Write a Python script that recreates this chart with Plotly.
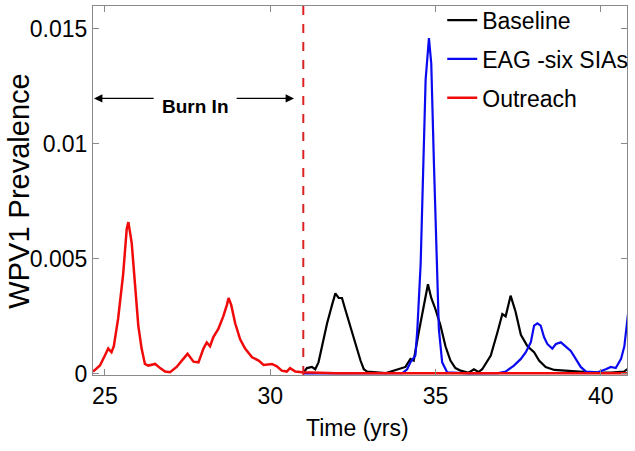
import plotly.graph_objects as go

# ---- data ----
red_t = [24.64, 24.85, 25.0, 25.1, 25.2, 25.27, 25.4, 25.55, 25.66, 25.71, 25.81, 25.91, 26.01, 26.11,
         26.21, 26.31, 26.52, 26.67, 26.82, 26.97, 27.17, 27.37, 27.5, 27.68, 27.83, 27.98, 28.08, 28.18,
         28.28, 28.43, 28.58, 28.69, 28.74, 28.82, 28.94, 29.09, 29.24, 29.45, 29.65, 29.8, 30.05, 30.2,
         30.35, 30.5, 30.6, 30.76, 30.96, 32.0, 34.0, 36.0, 38.0, 40.0, 40.8]
red_y = [0.0001, 0.00036, 0.0008, 0.0011, 0.00094, 0.0012, 0.0024, 0.0043, 0.0063, 0.0066, 0.0057, 0.0040,
         0.0021, 0.0011, 0.00043, 0.00036, 0.00043, 0.00025, 0.0001, 0.00007, 0.0003, 0.00065, 0.00087,
         0.00053, 0.0005, 0.0011, 0.00137, 0.0012, 0.0016, 0.00195, 0.0025, 0.0030, 0.0033, 0.0030, 0.0022,
         0.0015, 0.0011, 0.00072, 0.00058, 0.00039, 0.00043, 0.00033, 0.00014, 0.0001, 0.00025, 0.0001,
         0.00007, 0.00003, 0.00003, 0.00003, 0.00003, 0.00003, 0.00003]

base_t = [31.0, 31.11, 31.26, 31.36, 31.46, 31.57, 31.72, 31.87, 31.97, 32.07, 32.17, 32.27, 32.37, 32.48,
          32.58, 32.73, 32.83, 32.93, 33.5, 34.09, 34.24, 34.34, 34.49, 34.65, 34.77, 34.87, 35.0, 35.15,
          35.3, 35.45, 35.6, 35.76, 36.0, 36.16, 36.3, 36.41, 36.67, 36.87, 37.02, 37.12, 37.27, 37.42,
          37.58, 37.78, 37.98, 38.13, 38.33, 38.59, 38.99, 39.3, 39.8, 40.3, 40.7, 40.8]
base_y = [0.00005, 0.00025, 0.0003, 0.0002, 0.0005, 0.0012, 0.0022, 0.0030, 0.0035, 0.0033, 0.0033, 0.0028,
          0.0023, 0.0018, 0.0013, 0.00058, 0.0002, 0.0001, 0.00003, 0.0003, 0.00065, 0.00058, 0.0018, 0.0031,
          0.0039, 0.0033, 0.0028, 0.0021, 0.0012, 0.00058, 0.00025, 0.00014, 0.00005, 0.0002, 0.00008, 0.0002,
          0.0008, 0.0018, 0.0026, 0.0025, 0.0034, 0.0027, 0.0017, 0.0012, 0.00094, 0.00058, 0.0003, 0.00017,
          0.00014, 0.0001, 0.00005, 0.00005, 0.0001, 0.0002]

eag_t = [31.0, 32.5, 34.0, 34.14, 34.24, 34.39, 34.45, 34.55, 34.63, 34.7, 34.8, 34.87, 34.95, 35.03, 35.1,
         35.2, 35.35, 36.0, 36.9, 37.12, 37.37, 37.58, 37.73, 37.88, 37.98, 38.08, 38.18, 38.28, 38.38, 38.53,
         38.64, 38.79, 38.94, 39.09, 39.24, 39.39, 39.55, 39.9, 40.15, 40.3, 40.45, 40.61, 40.71, 40.79, 40.82]
eag_y = [0.00002, 0.00002, 0.00003, 0.0002, 0.0005, 0.0008, 0.00195, 0.0048, 0.0092, 0.0128, 0.0146, 0.0135,
         0.0092, 0.0048, 0.00195, 0.0005, 0.00007, 0.00002, 0.00003, 0.0001, 0.00036, 0.00065, 0.00094,
         0.00137, 0.0021, 0.0022, 0.0021, 0.0016, 0.0013, 0.0011, 0.0013, 0.00137, 0.0012, 0.001, 0.00065,
         0.0003, 0.0001, 0.00007, 0.0002, 0.0003, 0.00025, 0.00065, 0.0012, 0.0021, 0.0026]

series_names = ["Baseline", "EAG -six SIAs", "Outreach"]
x_ticks = [25, 30, 35, 40]
y_ticks = [0, 0.005, 0.01, 0.015]
y_tick_labels = ["0", "0.005", "0.01", "0.015"]
burn_in_end = 31
burn_label = "Burn In"
x_title = "Time (yrs)"
y_title = "WPV1 Prevalence"

FONT = "Liberation Sans, Arial, sans-serif"

fig = go.Figure()
fig.add_trace(go.Scatter(x=base_t, y=base_y, mode="lines", name=series_names[0], legendgroup="a",
                         line=dict(color="#000000", width=2.2)))
fig.add_trace(go.Scatter(x=eag_t, y=eag_y, mode="lines", name=series_names[1], legendgroup="b",
                         line=dict(color="#0a0af0", width=2.2)))
fig.add_trace(go.Scatter(x=red_t, y=red_y, mode="lines", name=series_names[2], legendgroup="c",
                         line=dict(color="#f00a0a", width=2.5)))

fig.add_shape(type="line", xref="x", yref="paper", x0=burn_in_end, x1=burn_in_end, y0=0, y1=1,
              line=dict(color="#dd2222", width=2, dash="dash"))

# Burn-in arrows and label
fig.add_annotation(x=24.67, y=0.01198, ax=26.52, ay=0.01198, xref="x", yref="y", axref="x", ayref="y",
                   text="", showarrow=True, arrowhead=2, arrowsize=1.4, arrowwidth=1.2, arrowcolor="#000000")
fig.add_annotation(x=30.72, y=0.01198, ax=28.94, ay=0.01198, xref="x", yref="y", axref="x", ayref="y",
                   text="", showarrow=True, arrowhead=2, arrowsize=1.4, arrowwidth=1.2, arrowcolor="#000000")
fig.add_annotation(x=27.73, y=0.01162, xref="x", yref="y", text="<b>" + burn_label + "</b>", showarrow=False,
                   font=dict(family=FONT, size=19, color="#000000"), xanchor="center", yanchor="middle")

# axis titles
fig.add_annotation(x=-0.1385, y=0.497, xref="paper", yref="paper", text=y_title, textangle=-90,
                   showarrow=False, font=dict(family=FONT, size=29, color="#000000"),
                   xanchor="center", yanchor="middle")
fig.add_annotation(x=0.496, y=-0.1436, xref="paper", yref="paper", text=x_title, showarrow=False,
                   font=dict(family=FONT, size=23, color="#000000"), xanchor="center", yanchor="middle")

axis_common = dict(showgrid=False, zeroline=False, showline=True, linecolor="#8a8a8a", linewidth=1,
                   mirror="ticks", ticks="inside", ticklen=6, tickcolor="#8a8a8a", tickwidth=1,
                   tickfont=dict(family=FONT, size=23, color="#000000"))

fig.update_xaxes(range=[24.64, 40.79], tickvals=x_ticks, ticktext=[str(v) for v in x_ticks], **axis_common)
fig.update_yaxes(range=[-0.00005, 0.016], tickvals=y_ticks, ticktext=y_tick_labels, **axis_common)

fig.update_layout(
    width=635, height=451,
    margin=dict(l=93, r=8, t=6, b=76, autoexpand=False),
    paper_bgcolor="white", plot_bgcolor="white",
    showlegend=True,
    legend=dict(x=0.654, y=1.02, xanchor="left", yanchor="top", bgcolor="rgba(0,0,0,0)",
                font=dict(family=FONT, size=23, color="#000000"), tracegroupgap=6),
)

# remove the default 8px page margin so the figure fills the window exactly
fig.write_html("out.html", config={"displayModeBar": False},
               post_script="document.body.style.margin='0';")
